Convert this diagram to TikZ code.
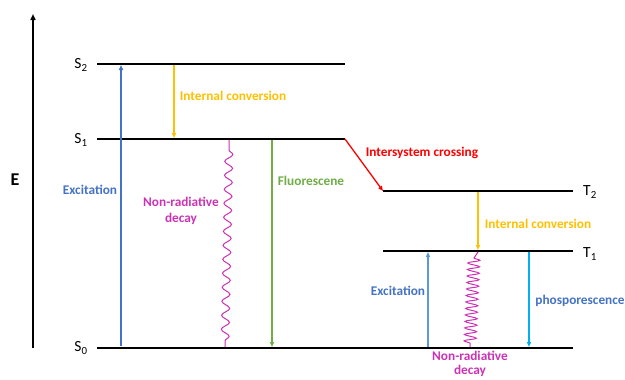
\documentclass[tikz,border=0pt]{standalone}
\usepackage{fontspec}
\setmainfont{Carlito}
\usetikzlibrary{arrows.meta,decorations.pathmorphing}

\definecolor{excblue}{RGB}{68,114,196}
\definecolor{lightexc}{RGB}{91,155,213}
\definecolor{icorange}{RGB}{255,192,0}
\definecolor{nrmagenta}{RGB}{204,51,180}
\definecolor{flgreen}{RGB}{112,173,71}
\definecolor{phcyan}{RGB}{0,176,240}

\begin{document}
\begin{tikzpicture}[x=1pt,y=-1pt,
	level/.style={line width=2.3pt,black},
	trans/.style={-{Triangle[length=5pt,width=4pt]},line width=1.3pt},
	lbl/.style={font=\bfseries\fontsize{13.3}{15.5}\selectfont,align=center},
	statelbl/.style={font=\fontsize{15.5}{17}\selectfont}]
	\useasboundingbox (0,0) rectangle (625,380);

	% energy axis
	\draw[-{Triangle[length=6pt,width=5pt]},line width=1.8pt] (33,348) -- (33,14);
	\node[font=\bfseries\fontsize{18}{20}\selectfont] (E) at (15,180) {E};

	% levels
	\coordinate (s2l) at (97,64);   \coordinate (s2r) at (345,64);
	\coordinate (s1l) at (97,139);  \coordinate (s1r) at (345,139);
	\coordinate (s0l) at (97,348);  \coordinate (s0r) at (573,348);
	\coordinate (t2l) at (383,191); \coordinate (t2r) at (573,191);
	\coordinate (t1l) at (383,251); \coordinate (t1r) at (573,251);
	\draw[level] (s2l) -- (s2r);
	\draw[level] (s1l) -- (s1r);
	\draw[level] (s0l) -- (s0r);
	\draw[level] (t2l) -- (t2r);
	\draw[level] (t1l) -- (t1r);

	\node[statelbl] (S2) at (81,65) {S\textsubscript{2}};
	\node[statelbl] (S1) at (81,140) {S\textsubscript{1}};
	\node[statelbl] (S0) at (81,348) {S\textsubscript{0}};
	\node[statelbl] (T2) at (590,192) {T\textsubscript{2}};
	\node[statelbl] (T1) at (590,254) {T\textsubscript{1}};

	% singlet side
	\coordinate (excA) at (121,346); \coordinate (excB) at (121,65);
	\draw[trans,excblue] (excA) -- (excB);
	\node[lbl,excblue] (exclbl) at (90,190) {Excitation};

	\coordinate (icA) at (174,65); \coordinate (icB) at (174,138);
	\draw[trans,icorange] (icA) -- (icB);
	\node[lbl,icorange] (iclbl) at (233,96) {Internal conversion};

	\coordinate (nrA) at (229,140); \coordinate (nrB) at (225,347);
	\draw[nrmagenta,line width=1pt] (nrA) -- (229,150)
		decorate[decoration={snake,amplitude=4pt,segment length=14pt}] {-- (225,344)} -- (nrB);
	\node[lbl,nrmagenta] (nrlbl) at (181,211) {Non-radiative\\decay};

	\coordinate (flA) at (272,140); \coordinate (flB) at (272,347);
	\draw[trans,flgreen] (flA) -- (flB);
	\node[lbl,flgreen] (fllbl) at (311,181) {Fluorescene};

	% intersystem crossing
	\draw[trans,red] (s1r) -- (t2l);
	\node[lbl,red] (isclbl) at (422,153) {Intersystem crossing};

	% triplet side
	\coordinate (ic2A) at (478,192); \coordinate (ic2B) at (478,250);
	\draw[trans,icorange] (ic2A) -- (ic2B);
	\node[lbl,icorange] (ic2lbl) at (538,224) {Internal conversion};

	\coordinate (exc2A) at (428,347); \coordinate (exc2B) at (428,252);
	\draw[trans,lightexc] (exc2A) -- (exc2B);
	\node[lbl,excblue] (exc2lbl) at (398,291) {Excitation};

	\coordinate (nr2A) at (478,252); \coordinate (nr2B) at (470,347);
	\draw[nrmagenta,line width=1pt] (nr2A) -- (474,258)
		decorate[decoration={snake,amplitude=6pt,segment length=6.5pt}] {-- (470,344)} -- (nr2B);
	\node[lbl,nrmagenta,inner sep=1pt,font=\bfseries\fontsize{13.3}{14.5}\selectfont] (nr2lbl) at (470,364) {Non-radiative\\decay};

	\coordinate (phA) at (529,252); \coordinate (phB) at (529,347);
	\draw[trans,phcyan] (phA) -- (phB);
	\node[lbl,excblue] (phlbl) at (580,301) {phosporescence};
\end{tikzpicture}
\end{document}
